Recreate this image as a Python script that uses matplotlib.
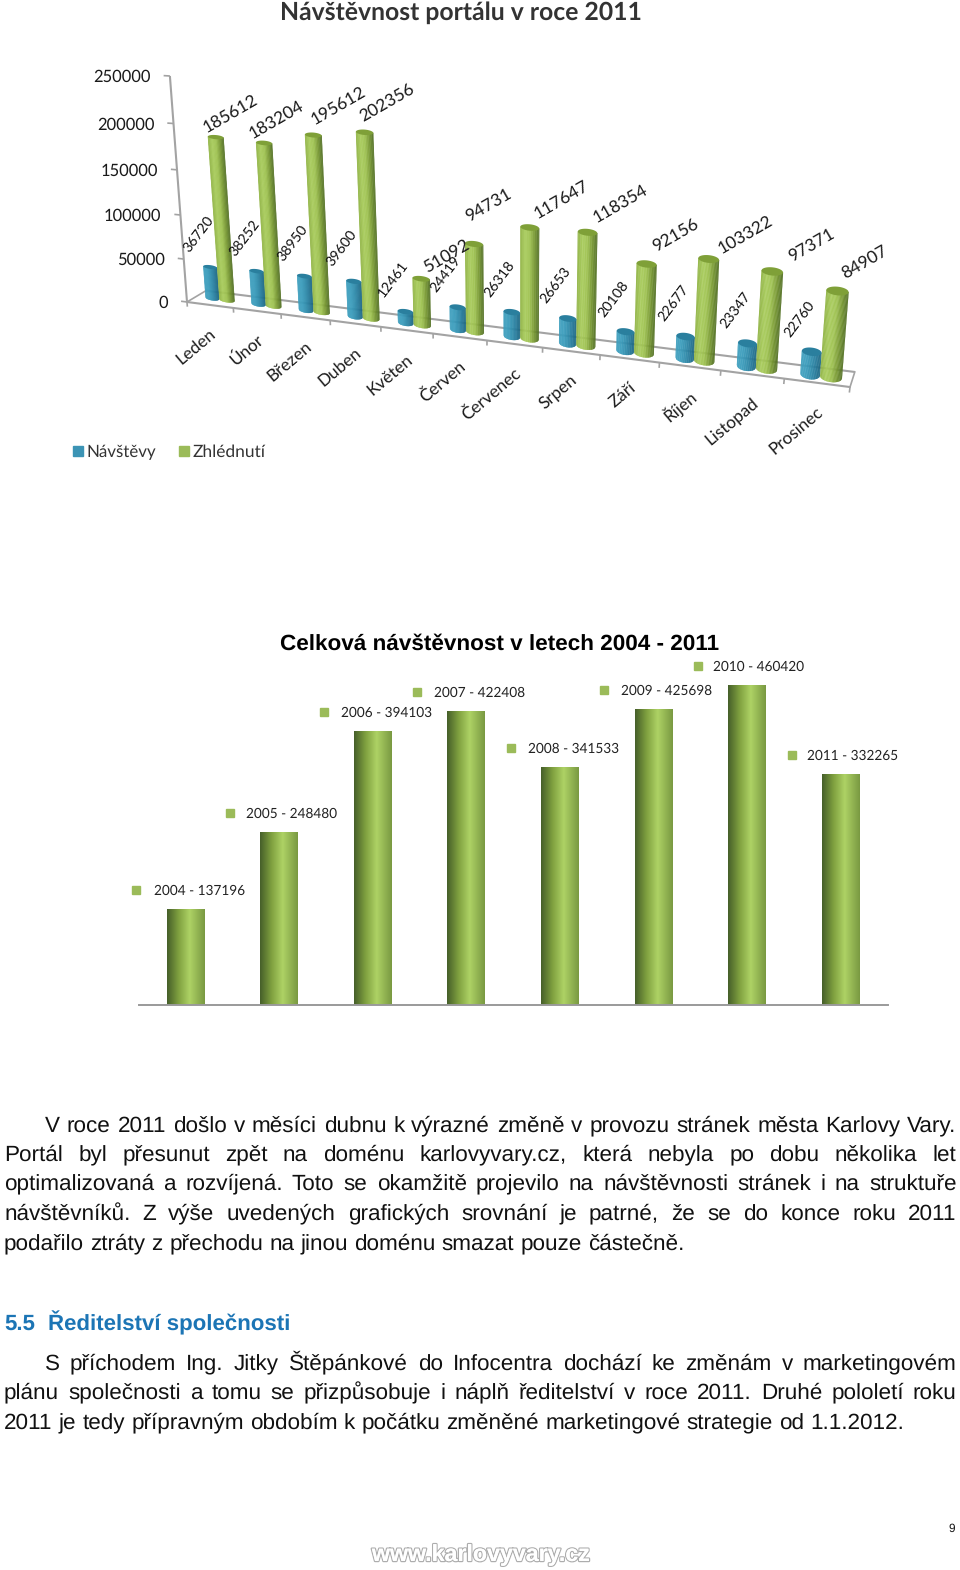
"""Page with two visit charts (portal traffic 2011 and totals 2004 - 2011) and text below them."""

import numpy as np
import matplotlib
matplotlib.use("Agg")
import matplotlib.pyplot as plt
import matplotlib.patheffects as pe
import matplotlib.transforms as mtransforms
from matplotlib.collections import PolyCollection
from matplotlib.colors import LinearSegmentedColormap

plt.rcParams["text.hinting"] = "no_hinting"

# data, monthly chart
months = ["Leden", "Únor", "Březen", "Duben", "Květen", "Červen", "Červenec",
          "Srpen", "Září", "Říjen", "Listopad", "Prosinec"]
navstevy = [36720, 38252, 38950, 39600, 12461, 24419, 26318, 26653, 20108, 22677, 23347, 22760]
zhlednuti = [185612, 183204, 195612, 202356, 51092, 94731, 117647, 118354, 92156, 103322, 97371, 84907]
month_ticks = [0, 50000, 100000, 150000, 200000, 250000]

# data, yearly chart
years = [2004, 2005, 2006, 2007, 2008, 2009, 2010, 2011]
totals = [137196, 248480, 394103, 422408, 341533, 425698, 460420, 332265]

# text below the charts
para1 = ["V roce 2011 došlo v měsíci dubnu k výrazné změně v provozu stránek města Karlovy Vary.",
         "Portál byl přesunut zpět na doménu karlovyvary.cz, která nebyla po dobu několika let",
         "optimalizovaná a rozvíjená. Toto se okamžitě projevilo na návštěvnosti stránek i na struktuře",
         "návštěvníků. Z výše uvedených grafických srovnání je patrné, že se do konce roku 2011",
         "podařilo ztráty z přechodu na jinou doménu smazat pouze částečně."]
para2 = ["S příchodem Ing. Jitky Štěpánkové do Infocentra dochází ke změnám v marketingovém",
         "plánu společnosti a tomu se přizpůsobuje i náplň ředitelství v roce 2011. Druhé pololetí roku",
         "2011 je tedy přípravným obdobím k počátku změněné marketingové strategie od 1.1.2012."]

# label nudges in pixels (the original charts are not regular here)
green_dx = [14, 11, 24, 21, 24, 13, 31, 32, 28, 36, 38, 26]
green_dy = [-25, -24, -30, -31, -24, -40, -29, -30, -30, -25, -27, -30]
year_dx = [-31, -33, -32, -32, -32, -32, -34, -34]

W, H = 960, 1570
CHART_FONT = "Lato"
BODY_FONT = "Liberation Sans"
GREEN = "#9BBB59"


class Perspective(mtransforms.Transform):
    """Maps (category, value in thousands) to page pixels through a homography."""
    input_dims = 2
    output_dims = 2
    is_separable = False

    def __init__(self, x, y, w):
        super().__init__()
        self.m = np.array([x, y, w], dtype=float)

    def transform_non_affine(self, values):
        values = np.asarray(values, dtype=float)
        p = np.column_stack([np.ones(len(values)), values]) @ self.m.T
        return p[:, :2] / p[:, 2:]


# one plane for the bars, one for the front of the floor and the y axis
bar_plane = Perspective([227, 42.52, -0.104], [300, 1.38, -0.905], [1, -0.01491, -0.0002])
frame_plane = Perspective([187, 42.96, -0.11], [302, 1.49, -0.9227], [1, -0.01446, -0.000245])

fig = plt.figure(figsize=(W / 100, H / 100), dpi=100, facecolor="white")
page = fig.add_axes([0, 0, 1, 1])
page.set_xlim(0, W)
page.set_ylim(H, 0)
page.axis("off")

green_cm = LinearSegmentedColormap.from_list("g", ["#8FB342", "#A8CC5A", "#9DC14E", "#75962F", "#4F6C22"])
blue_cm = LinearSegmentedColormap.from_list("b", ["#3E9FBE", "#3A9DBD", "#2F8EAE", "#24799A", "#1A6480"])


def cylinder(i, value, half, cmap, cap):
    # body as thin strips so it gets the shading across the width
    v = value / 1000
    rim = 2.3 + 0.17 * i
    edges = np.linspace(-1, 1, 29)
    strips = []
    for a, b in zip(edges[:-1], edges[1:]):
        ya = -1.2 * rim * np.sqrt(1 - a * a)
        yb = -1.2 * rim * np.sqrt(1 - b * b)
        strips.append(bar_plane.transform(np.array([[i + half * a, ya], [i + half * b, yb],
                                                    [i + half * b, v], [i + half * a, v]])))
    colors = cmap((edges[:-1] + 1) / 2)
    page.add_collection(PolyCollection(strips, facecolors=colors, edgecolors=colors, linewidths=0.2, zorder=3))
    t = np.linspace(0, 2 * np.pi, 50)
    top = bar_plane.transform(np.column_stack([i + half * np.cos(t), v + rim * np.sin(t)]))
    page.fill(top[:, 0], top[:, 1], color=cap, lw=0, zorder=3.1)


def frame_line(plane, pts, lw=1.5):
    p = plane.transform(np.array(pts, dtype=float))
    page.plot(p[:, 0], p[:, 1], color="#A3A3A3", lw=lw, solid_capstyle="butt", zorder=2)


# monthly chart: floor and y axis
frame_line(frame_plane, [[0, 0], [0, 250]])
frame_line(frame_plane, [[0, 0], [12, 0]])
frame_line(bar_plane, [[-0.45, 8], [11.35, 8]])
p0, p1 = frame_plane.transform(np.array([[0, 0], [12, 0]]))
b0, b1 = bar_plane.transform(np.array([[-0.45, 8], [11.35, 8]]))
page.plot([p0[0], b0[0]], [p0[1], b0[1]], color="#A3A3A3", lw=1.2, zorder=2)
page.plot([p1[0], b1[0]], [p1[1], b1[1]], color="#A3A3A3", lw=1.2, zorder=2)
for u in range(len(months) + 1):
    frame_line(frame_plane, [[u, 0], [u, -5.5]], lw=1.2)
for tick in month_ticks:
    frame_line(frame_plane, [[-0.13, tick / 1000], [0, tick / 1000]], lw=1.2)
    x, y = frame_plane.transform(np.array([[0, tick / 1000]]))[0]
    page.text(x - 19, y + 1.5, str(tick), ha="right", va="center", fontsize=11.9, family=CHART_FONT, color="#1a1a1a")

# monthly chart: bars and labels
for i, month in enumerate(months):
    cylinder(i - 0.32, navstevy[i], 0.15, blue_cm, "#2A7F9E")
    cylinder(i, zhlednuti[i], 0.165, green_cm, "#7FA038")

    x, y = bar_plane.transform(np.array([[i - 0.32, navstevy[i] / 1000]]))[0]
    page.text(x - 12, y - 33, str(navstevy[i]), rotation=53, rotation_mode="anchor", ha="center", va="center",
              fontsize=10.3, family=CHART_FONT, color="#111111", zorder=5)
    x, y = bar_plane.transform(np.array([[i, zhlednuti[i] / 1000]]))[0]
    page.text(x + green_dx[i] + 1, y + green_dy[i] + 1, str(zhlednuti[i]), rotation=30, rotation_mode="anchor",
              ha="center", va="center", fontsize=12.5, family=CHART_FONT, color="#1a1a1a", zorder=5)

    x, y = frame_plane.transform(np.array([[i + 0.5, 0]]))[0]
    page.text(x + 4, y + 27, month, rotation=40, rotation_mode="anchor", ha="right", va="center",
              fontsize=12.3, family=CHART_FONT, color="#1a1a1a")

page.text(460.5, 13, "Návštěvnost portálu v roce 2011", ha="center", va="center", fontsize=17.8,
          family=CHART_FONT, weight="bold", color="#333333")
page.plot([77.5], [451], marker="s", ms=7.2, color="#3C94B5", ls="none")
page.text(86.5, 452, "Návštěvy", va="center", fontsize=12.2, family=CHART_FONT, color="#333333")
page.plot([184], [451], marker="s", ms=7.2, color=GREEN, ls="none")
page.text(193, 452, "Zhlédnutí", va="center", fontsize=12.5, family=CHART_FONT, color="#333333")

# yearly chart
ax = fig.add_axes([138.5 / W, 1 - 1005 / H, 749 / W, 347.5 / H])
ax.patch.set_alpha(0)
ax.set_xticks([])
ax.set_yticks([])
for side in ["top", "left", "right"]:
    ax.spines[side].set_visible(False)
ax.spines["bottom"].set_color("#9A9A9A")
ax.spines["bottom"].set_linewidth(1.4)

bar_cm = LinearSegmentedColormap.from_list("bar", [(0, "#46602A"), (0.3, "#7FA03F"), (0.6, "#AED265"), (1, "#7A9A42")])
grad = np.linspace(0, 1, 64).reshape(1, -1)
half_bar = 0.2
marker_tr = mtransforms.offset_copy(ax.transData, fig=fig, x=-49, y=19.5, units="dots")
for i, (year, total) in enumerate(zip(years, totals)):
    ax.imshow(grad, extent=(i - half_bar, i + half_bar, 0, total), cmap=bar_cm, aspect="auto", zorder=2)
    ax.plot([i], [total], marker="s", ms=6.4, color=GREEN, ls="none", transform=marker_tr, clip_on=False)
    text_tr = mtransforms.offset_copy(ax.transData, fig=fig, x=year_dx[i], y=18.5, units="dots")
    ax.text(i, total, "%d - %d" % (year, total), va="center", ha="left", fontsize=9.85, family=CHART_FONT,
            color="#222222", transform=text_tr, clip_on=False)
ax.set_xlim(-0.5, len(years) - 0.5)
ax.set_ylim(0, 500000)

page.text(499.5, 644, "Celková návštěvnost v letech 2004 - 2011", ha="center", va="center", fontsize=16.18,
          family=BODY_FONT, weight="bold", color="black")


# body text, justified by hand since matplotlib can't do it
def text_line(line, x0, y, justify=True, x1=956.5):
    words = line.split()
    r = fig.canvas.get_renderer()
    items = [page.text(0, y, w, fontsize=BODY_SIZE, family=BODY_FONT, va="baseline", color="#111111") for w in words]
    widths = [t.get_window_extent(r).width for t in items]
    gap = BODY_SIZE * 100 / 72 * 0.278
    if justify:
        gap = (x1 - x0 - sum(widths)) / (len(words) - 1)
    x = x0
    for t, w, word in zip(items, widths, words):
        t.set_x(x)
        # agg places the word bitmap by height and descent, without this words jump a pixel
        h, d = r.get_text_width_height_descent(word, t.get_fontproperties(), False)[1:]
        t.set_y(round(y) + np.trunc(h) - np.trunc(h - d) - d)
        x += w + gap


BODY_SIZE = 16.16
for k, (line, base) in enumerate(zip(para1, [1132, 1161, 1190, 1220, 1250])):
    text_line(line, 45 if k == 0 else 4, base, justify=k < len(para1) - 1)
for k, (line, base) in enumerate(zip(para2, [1370, 1399, 1429])):
    text_line(line, 45 if k == 0 else 4, base, justify=k < len(para2) - 1)

page.text(4, 1330, "5.5", fontsize=16.07, family=BODY_FONT, weight="bold", color="#1C75B5")
page.text(48, 1330, "Ředitelství společnosti", fontsize=16.07, family=BODY_FONT, weight="bold", color="#1C75B5")

page.text(952, 1532, "9", ha="center", va="baseline", fontsize=8.5, family=BODY_FONT, color="#111111")
page.text(480.5, 1555, "www.karlovyvary.cz", ha="center", va="center", fontsize=16.7, family=BODY_FONT, weight="bold",
          color="white", path_effects=[pe.withStroke(linewidth=1.8, foreground="#ADADAD"), pe.Normal()])

fig.savefig("out.png", dpi=100, facecolor="white")
